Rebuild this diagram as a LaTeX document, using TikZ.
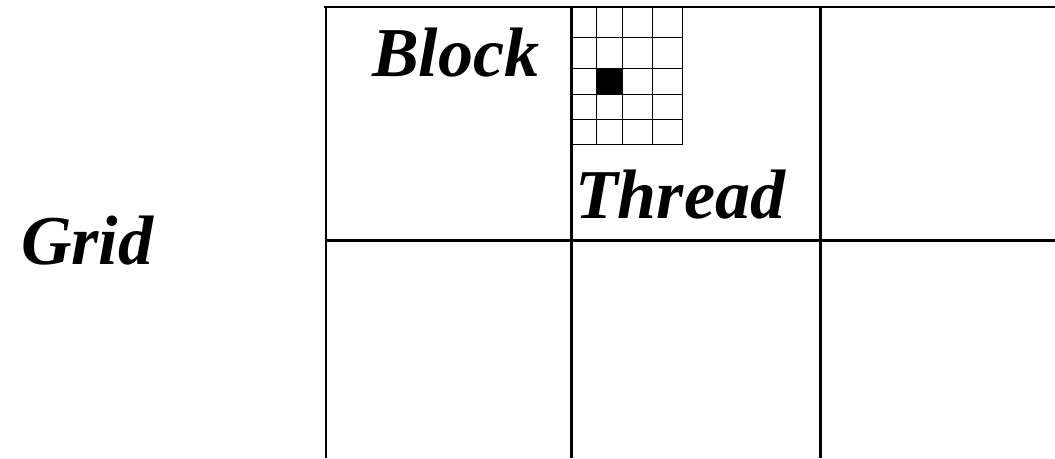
\documentclass[tikz,border=0pt]{standalone}
\usepackage{fontspec}
\setmainfont{Liberation Serif}
\begin{document}
\begin{tikzpicture}[x=1pt,y=-1pt,
  mainline/.style={line width=2.3pt,black},
  thinline/.style={line width=0.8pt,black},
  lbl/.style={inner sep=0pt,anchor=base west,font=\fontsize{70}{80}\selectfont\bfseries\itshape}]
\useasboundingbox (0,0) rectangle (1055,458);
% main grid
\draw[mainline] (324,7) -- (1055,7);
\draw[mainline] (326,240.5) -- (1055,240.5);
\draw[mainline] (326,7) -- (326,458);
\draw[mainline] (571.5,7) -- (571.5,458);
\draw[mainline] (820.5,7) -- (820.5,458);
% small thread grid
\fill[black] (596.7,68.3) rectangle (622,94);
\foreach \x in {596.7,622,652.3,682.7}
  \draw[thinline] (\x,7) -- (\x,144);
\foreach \y in {37.7,68.3,94,119,144}
  \draw[thinline] (571.5,\y) -- (682.7,\y);
% labels
\node[lbl] (block) at (372,76) {Block};
\node[lbl] (thread) at (575,218) {Thread};
\node[lbl] (grid) at (21,264) {Grid};
\end{tikzpicture}
\end{document}
